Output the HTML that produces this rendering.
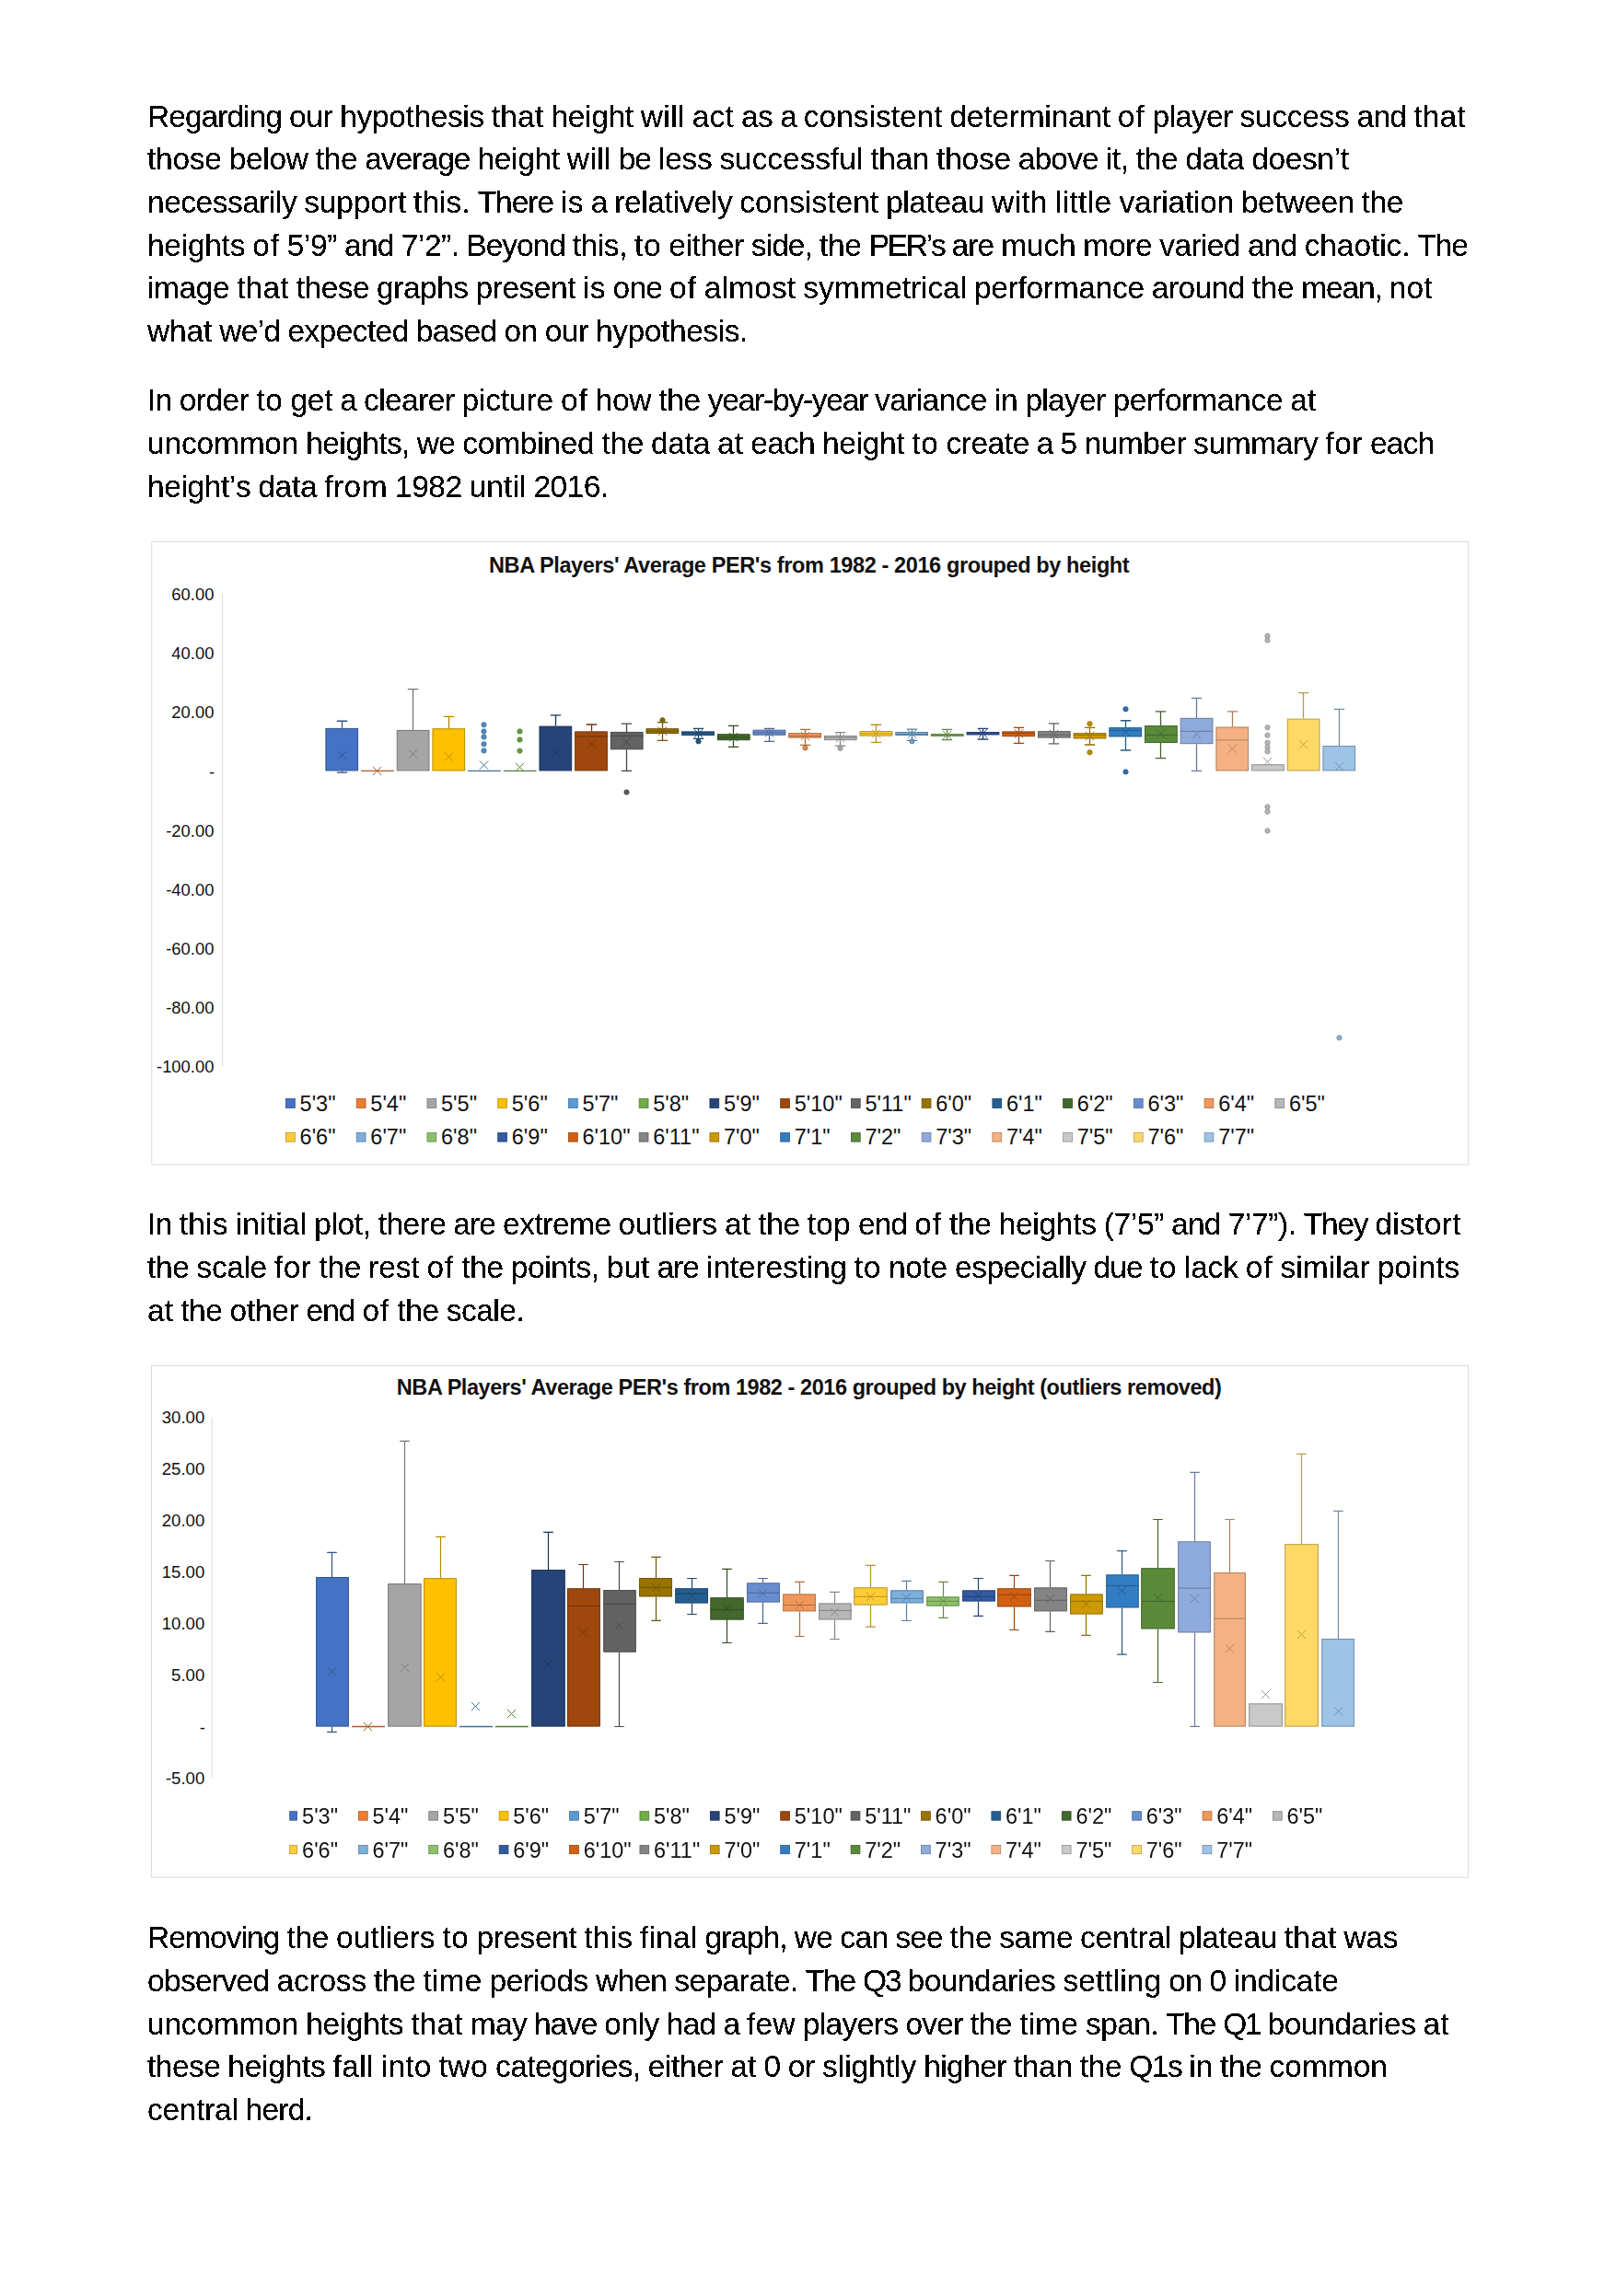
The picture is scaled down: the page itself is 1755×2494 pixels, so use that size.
<!DOCTYPE html><html><head><meta charset="utf-8"><title>NBA PER by height</title><style>
html,body{margin:0;padding:0;background:#fff}body{width:1755px;height:2494px;position:relative;overflow:hidden;font-family:"Liberation Sans",sans-serif;color:#000}
.t{position:absolute;white-space:nowrap;font-size:33.5px;line-height:40px;height:40px;margin:0;font-kerning:none;filter:url(#bw)}.w{display:inline-block;white-space:pre}
</style></head><body>
<svg width="0" height="0" style="position:absolute"><filter id="bw" x="-1%" y="-10%" width="102%" height="120%" color-interpolation-filters="sRGB"><feComponentTransfer><feFuncA type="discrete" tableValues="0 0 1 1 1"/></feComponentTransfer></filter></svg>
<div class="t" style="left:160.00px;top:107.39px"><span class="w" style="width:153.97px;letter-spacing:-0.958px">Regarding </span><span class="w" style="width:55.28px;letter-spacing:-0.384px">our </span><span class="w" style="width:164.59px;letter-spacing:-0.358px">hypothesis </span><span class="w" style="width:64.61px;letter-spacing:0.179px">that </span><span class="w" style="width:97.42px;letter-spacing:-0.311px">height </span><span class="w" style="width:55.91px;letter-spacing:0.344px">will </span><span class="w" style="width:53.15px;letter-spacing:0.147px">act </span><span class="w" style="width:42.32px;letter-spacing:-0.539px">as </span><span class="w" style="width:25.62px;letter-spacing:-1.021px">a </span><span class="w" style="width:158.69px;letter-spacing:-0.015px">consistent </span><span class="w" style="width:182.25px;letter-spacing:-0.243px">determinant </span><span class="w" style="width:37.72px;letter-spacing:0.882px">of </span><span class="w" style="width:95.07px;letter-spacing:-0.698px">player </span><span class="w" style="width:126.98px;letter-spacing:-0.292px">success </span><span class="w" style="width:61.74px;letter-spacing:-0.721px">and </span><span class="w" style="width:56.59px;letter-spacing:0.179px">that</span></div>
<div class="t" style="left:160.00px;top:153.39px"><span class="w" style="width:88.70px;letter-spacing:-0.253px">those </span><span class="w" style="width:93.95px;letter-spacing:-0.319px">below </span><span class="w" style="width:53.55px;letter-spacing:-0.342px">the </span><span class="w" style="width:122.30px;letter-spacing:-0.968px">average </span><span class="w" style="width:97.39px;letter-spacing:-0.316px">height </span><span class="w" style="width:55.89px;letter-spacing:0.340px">will </span><span class="w" style="width:43.31px;letter-spacing:-0.980px">be </span><span class="w" style="width:66.39px;letter-spacing:-0.300px">less </span><span class="w" style="width:163.87px;letter-spacing:-0.053px">successful </span><span class="w" style="width:71.87px;letter-spacing:-0.336px">than </span><span class="w" style="width:88.70px;letter-spacing:-0.253px">those </span><span class="w" style="width:95.05px;letter-spacing:-0.847px">above </span><span class="w" style="width:32.79px;letter-spacing:-0.426px">it, </span><span class="w" style="width:53.55px;letter-spacing:-0.342px">the </span><span class="w" style="width:72.04px;letter-spacing:-0.292px">data </span><span class="w" style="width:105.43px;letter-spacing:-0.370px">doesn’t</span></div>
<div class="t" style="left:160.00px;top:200.39px"><span class="w" style="width:170.19px;letter-spacing:-0.491px">necessarily </span><span class="w" style="width:118.93px;letter-spacing:-0.118px">support </span><span class="w" style="width:69.52px;letter-spacing:0.013px">this. </span><span class="w" style="width:90.46px;letter-spacing:-1.014px">There </span><span class="w" style="width:32.58px;letter-spacing:0.184px">is </span><span class="w" style="width:25.64px;letter-spacing:-1.013px">a </span><span class="w" style="width:136.09px;letter-spacing:-0.411px">relatively </span><span class="w" style="width:158.77px;letter-spacing:-0.008px">consistent </span><span class="w" style="width:114.88px;letter-spacing:-0.435px">plateau </span><span class="w" style="width:68.64px;letter-spacing:0.261px">with </span><span class="w" style="width:69.92px;letter-spacing:0.388px">little </span><span class="w" style="width:132.55px;letter-spacing:-0.233px">variation </span><span class="w" style="width:130.46px;letter-spacing:-0.602px">between </span><span class="w" style="width:45.58px;letter-spacing:-0.330px">the</span></div>
<div class="t" style="left:160.00px;top:247.39px"><span class="w" style="width:114.15px;letter-spacing:-0.270px">heights </span><span class="w" style="width:37.73px;letter-spacing:0.887px">of </span><span class="w" style="width:62.18px;letter-spacing:-0.425px">5’9” </span><span class="w" style="width:61.77px;letter-spacing:-0.715px">and </span><span class="w" style="width:70.70px;letter-spacing:-0.497px">7’2”. </span><span class="w" style="width:115.26px;letter-spacing:-1.062px">Beyond </span><span class="w" style="width:67.35px;letter-spacing:-0.422px">this, </span><span class="w" style="width:37.07px;letter-spacing:0.555px">to </span><span class="w" style="width:89.57px;letter-spacing:-0.375px">either </span><span class="w" style="width:74.35px;letter-spacing:-0.885px">side, </span><span class="w" style="width:53.59px;letter-spacing:-0.332px">the </span><span class="w" style="width:89.96px;letter-spacing:-2.226px">PER’s </span><span class="w" style="width:53.75px;letter-spacing:-0.895px">are </span><span class="w" style="width:89.04px;letter-spacing:-0.223px">much </span><span class="w" style="width:82.99px;letter-spacing:-0.338px">more </span><span class="w" style="width:95.56px;letter-spacing:-0.617px">varied </span><span class="w" style="width:61.77px;letter-spacing:-0.715px">and </span><span class="w" style="width:122.80px;letter-spacing:-0.083px">chaotic. </span><span class="w" style="width:54.32px;letter-spacing:-1.136px">The</span></div>
<div class="t" style="left:160.00px;top:293.39px"><span class="w" style="width:97.15px;letter-spacing:-0.421px">image </span><span class="w" style="width:64.59px;letter-spacing:0.176px">that </span><span class="w" style="width:87.40px;letter-spacing:-0.513px">these </span><span class="w" style="width:107.41px;letter-spacing:-0.506px">graphs </span><span class="w" style="width:116.54px;letter-spacing:-0.459px">present </span><span class="w" style="width:32.56px;letter-spacing:0.176px">is </span><span class="w" style="width:61.48px;letter-spacing:-0.809px">one </span><span class="w" style="width:37.71px;letter-spacing:0.879px">of </span><span class="w" style="width:107.56px;letter-spacing:0.147px">almost </span><span class="w" style="width:185.68px;letter-spacing:-0.091px">symmetrical </span><span class="w" style="width:192.84px;letter-spacing:-0.294px">performance </span><span class="w" style="width:108.99px;letter-spacing:-0.556px">around </span><span class="w" style="width:53.56px;letter-spacing:-0.341px">the </span><span class="w" style="width:95.35px;letter-spacing:-1.154px">mean, </span><span class="w" style="width:46.89px;letter-spacing:0.107px">not</span></div>
<div class="t" style="left:160.00px;top:340.39px"><span class="w" style="width:78.28px;letter-spacing:-0.122px">what </span><span class="w" style="width:74.14px;letter-spacing:-0.690px">we’d </span><span class="w" style="width:139.32px;letter-spacing:-0.581px">expected </span><span class="w" style="width:95.80px;letter-spacing:-0.697px">based </span><span class="w" style="width:44.30px;letter-spacing:-0.486px">on </span><span class="w" style="width:55.23px;letter-spacing:-0.400px">our </span><span class="w" style="width:164.93px;letter-spacing:-0.412px">hypothesis.</span></div>
<div class="t" style="left:160.00px;top:415.39px"><span class="w" style="width:34.67px;letter-spacing:-0.642px">In </span><span class="w" style="width:83.76px;letter-spacing:-0.492px">order </span><span class="w" style="width:37.04px;letter-spacing:0.543px">to </span><span class="w" style="width:53.88px;letter-spacing:-0.234px">get </span><span class="w" style="width:25.61px;letter-spacing:-1.030px">a </span><span class="w" style="width:106.59px;letter-spacing:-0.546px">clearer </span><span class="w" style="width:107.46px;letter-spacing:-0.158px">picture </span><span class="w" style="width:37.70px;letter-spacing:0.875px">of </span><span class="w" style="width:68.60px;letter-spacing:-0.287px">how </span><span class="w" style="width:53.55px;letter-spacing:-0.345px">the </span><span class="w" style="width:181.34px;letter-spacing:-1.225px">year-by-year </span><span class="w" style="width:129.62px;letter-spacing:-0.626px">variance </span><span class="w" style="width:33.72px;letter-spacing:-0.184px">in </span><span class="w" style="width:95.02px;letter-spacing:-0.705px">player </span><span class="w" style="width:192.79px;letter-spacing:-0.298px">performance </span><span class="w" style="width:28.17px;letter-spacing:0.116px">at</span></div>
<div class="t" style="left:160.00px;top:462.39px"><span class="w" style="width:172.28px;letter-spacing:-0.182px">uncommon </span><span class="w" style="width:120.52px;letter-spacing:-0.604px">heights, </span><span class="w" style="width:49.51px;letter-spacing:-0.663px">we </span><span class="w" style="width:151.15px;letter-spacing:-0.265px">combined </span><span class="w" style="width:53.59px;letter-spacing:-0.331px">the </span><span class="w" style="width:72.10px;letter-spacing:-0.280px">data </span><span class="w" style="width:36.21px;letter-spacing:0.129px">at </span><span class="w" style="width:77.58px;letter-spacing:-0.769px">each </span><span class="w" style="width:97.46px;letter-spacing:-0.305px">height </span><span class="w" style="width:37.07px;letter-spacing:0.556px">to </span><span class="w" style="width:98.44px;letter-spacing:-0.447px">create </span><span class="w" style="width:25.63px;letter-spacing:-1.014px">a </span><span class="w" style="width:26.20px;letter-spacing:-0.445px">5 </span><span class="w" style="width:118.42px;letter-spacing:-0.531px">number </span><span class="w" style="width:143.25px;letter-spacing:-0.357px">summary </span><span class="w" style="width:48.69px;letter-spacing:0.527px">for </span><span class="w" style="width:69.57px;letter-spacing:-0.769px">each</span></div>
<div class="t" style="left:160.00px;top:509.39px"><span class="w" style="width:120.30px;letter-spacing:-0.395px">height’s </span><span class="w" style="width:71.90px;letter-spacing:-0.324px">data </span><span class="w" style="width:76.87px;letter-spacing:0.468px">from </span><span class="w" style="width:80.54px;letter-spacing:-0.495px">1982 </span><span class="w" style="width:69.85px;letter-spacing:0.080px">until </span><span class="w" style="width:81.05px;letter-spacing:-0.557px">2016.</span></div>
<div class="t" style="left:160.00px;top:1310.39px"><span class="w" style="width:34.69px;letter-spacing:-0.631px">In </span><span class="w" style="width:60.99px;letter-spacing:0.211px">this </span><span class="w" style="width:85.52px;letter-spacing:0.166px">initial </span><span class="w" style="width:69.45px;letter-spacing:-0.377px">plot, </span><span class="w" style="width:81.71px;letter-spacing:-0.533px">there </span><span class="w" style="width:53.75px;letter-spacing:-0.895px">are </span><span class="w" style="width:125.46px;letter-spacing:-0.510px">extreme </span><span class="w" style="width:115.45px;letter-spacing:-0.069px">outliers </span><span class="w" style="width:36.21px;letter-spacing:0.128px">at </span><span class="w" style="width:53.59px;letter-spacing:-0.332px">the </span><span class="w" style="width:55.24px;letter-spacing:0.216px">top </span><span class="w" style="width:61.31px;letter-spacing:-0.867px">end </span><span class="w" style="width:37.73px;letter-spacing:0.887px">of </span><span class="w" style="width:53.59px;letter-spacing:-0.332px">the </span><span class="w" style="width:114.16px;letter-spacing:-0.269px">heights </span><span class="w" style="width:73.25px;letter-spacing:-0.357px">(7’5” </span><span class="w" style="width:61.77px;letter-spacing:-0.715px">and </span><span class="w" style="width:81.96px;letter-spacing:-0.397px">7’7”). </span><span class="w" style="width:77.66px;letter-spacing:-1.208px">They </span><span class="w" style="width:93.41px;letter-spacing:0.312px">distort</span></div>
<div class="t" style="left:160.00px;top:1357.39px"><span class="w" style="width:53.58px;letter-spacing:-0.336px">the </span><span class="w" style="width:84.28px;letter-spacing:-0.388px">scale </span><span class="w" style="width:48.68px;letter-spacing:0.523px">for </span><span class="w" style="width:53.58px;letter-spacing:-0.336px">the </span><span class="w" style="width:63.40px;letter-spacing:-0.116px">rest </span><span class="w" style="width:37.72px;letter-spacing:0.884px">of </span><span class="w" style="width:53.58px;letter-spacing:-0.336px">the </span><span class="w" style="width:103.99px;letter-spacing:-0.389px">points, </span><span class="w" style="width:54.61px;letter-spacing:0.007px">but </span><span class="w" style="width:53.74px;letter-spacing:-0.899px">are </span><span class="w" style="width:160.74px;letter-spacing:-0.167px">interesting </span><span class="w" style="width:37.06px;letter-spacing:0.552px">to </span><span class="w" style="width:72.08px;letter-spacing:-0.285px">note </span><span class="w" style="width:150.63px;letter-spacing:-0.448px">especially </span><span class="w" style="width:61.28px;letter-spacing:-0.877px">due </span><span class="w" style="width:37.06px;letter-spacing:0.552px">to </span><span class="w" style="width:66.84px;letter-spacing:-0.187px">lack </span><span class="w" style="width:37.72px;letter-spacing:0.884px">of </span><span class="w" style="width:105.23px;letter-spacing:0.063px">similar </span><span class="w" style="width:89.62px;letter-spacing:0.038px">points</span></div>
<div class="t" style="left:160.00px;top:1404.39px"><span class="w" style="width:36.13px;letter-spacing:0.095px">at </span><span class="w" style="width:53.47px;letter-spacing:-0.367px">the </span><span class="w" style="width:82.83px;letter-spacing:-0.306px">other </span><span class="w" style="width:61.16px;letter-spacing:-0.909px">end </span><span class="w" style="width:37.64px;letter-spacing:0.853px">of </span><span class="w" style="width:53.47px;letter-spacing:-0.367px">the </span><span class="w" style="width:84.61px;letter-spacing:-0.484px">scale.</span></div>
<div class="t" style="left:160.00px;top:2085.39px"><span class="w" style="width:151.52px;letter-spacing:-0.913px">Removing </span><span class="w" style="width:53.58px;letter-spacing:-0.335px">the </span><span class="w" style="width:115.43px;letter-spacing:-0.072px">outliers </span><span class="w" style="width:37.06px;letter-spacing:0.552px">to </span><span class="w" style="width:116.58px;letter-spacing:-0.453px">present </span><span class="w" style="width:60.98px;letter-spacing:0.208px">this </span><span class="w" style="width:70.45px;letter-spacing:0.196px">final </span><span class="w" style="width:97.11px;letter-spacing:-0.983px">graph, </span><span class="w" style="width:49.50px;letter-spacing:-0.669px">we </span><span class="w" style="width:60.44px;letter-spacing:-0.529px">can </span><span class="w" style="width:59.02px;letter-spacing:-1.003px">see </span><span class="w" style="width:53.58px;letter-spacing:-0.335px">the </span><span class="w" style="width:87.86px;letter-spacing:-0.519px">same </span><span class="w" style="width:106.99px;letter-spacing:-0.225px">central </span><span class="w" style="width:114.84px;letter-spacing:-0.440px">plateau </span><span class="w" style="width:64.62px;letter-spacing:0.181px">that </span><span class="w" style="width:58.64px;letter-spacing:-0.311px">was</span></div>
<div class="t" style="left:160.00px;top:2132.39px"><span class="w" style="width:140.56px;letter-spacing:-0.659px">observed </span><span class="w" style="width:105.39px;letter-spacing:-0.215px">across </span><span class="w" style="width:53.58px;letter-spacing:-0.335px">the </span><span class="w" style="width:71.99px;letter-spacing:0.171px">time </span><span class="w" style="width:115.57px;letter-spacing:-0.331px">periods </span><span class="w" style="width:85.20px;letter-spacing:-0.725px">when </span><span class="w" style="width:142.47px;letter-spacing:-0.580px">separate. </span><span class="w" style="width:62.33px;letter-spacing:-1.139px">The </span><span class="w" style="width:48.46px;letter-spacing:-2.123px">Q3 </span><span class="w" style="width:168.90px;letter-spacing:-0.488px">boundaries </span><span class="w" style="width:114.77px;letter-spacing:0.076px">settling </span><span class="w" style="width:44.35px;letter-spacing:-0.465px">on </span><span class="w" style="width:26.20px;letter-spacing:-0.449px">0 </span><span class="w" style="width:114.14px;letter-spacing:-0.166px">indicate</span></div>
<div class="t" style="left:160.00px;top:2179.39px"><span class="w" style="width:172.13px;letter-spacing:-0.200px">uncommon </span><span class="w" style="width:114.06px;letter-spacing:-0.282px">heights </span><span class="w" style="width:64.58px;letter-spacing:0.172px">that </span><span class="w" style="width:69.28px;letter-spacing:-0.671px">may </span><span class="w" style="width:76.25px;letter-spacing:-1.101px">have </span><span class="w" style="width:67.48px;letter-spacing:-0.496px">only </span><span class="w" style="width:61.68px;letter-spacing:-0.740px">had </span><span class="w" style="width:25.61px;letter-spacing:-1.030px">a </span><span class="w" style="width:60.70px;letter-spacing:0.187px">few </span><span class="w" style="width:111.71px;letter-spacing:-0.614px">players </span><span class="w" style="width:70.23px;letter-spacing:-0.737px">over </span><span class="w" style="width:53.55px;letter-spacing:-0.345px">the </span><span class="w" style="width:71.94px;letter-spacing:0.160px">time </span><span class="w" style="width:86.82px;letter-spacing:-0.628px">span. </span><span class="w" style="width:62.28px;letter-spacing:-1.151px">The </span><span class="w" style="width:48.43px;letter-spacing:-2.136px">Q1 </span><span class="w" style="width:168.79px;letter-spacing:-0.498px">boundaries </span><span class="w" style="width:28.17px;letter-spacing:0.117px">at</span></div>
<div class="t" style="left:160.00px;top:2225.39px"><span class="w" style="width:87.36px;letter-spacing:-0.519px">these </span><span class="w" style="width:114.05px;letter-spacing:-0.284px">heights </span><span class="w" style="width:52.54px;letter-spacing:0.428px">fall </span><span class="w" style="width:62.73px;letter-spacing:0.178px">into </span><span class="w" style="width:61.34px;letter-spacing:0.401px">two </span><span class="w" style="width:165.83px;letter-spacing:-0.550px">categories, </span><span class="w" style="width:89.48px;letter-spacing:-0.388px">either </span><span class="w" style="width:36.18px;letter-spacing:0.115px">at </span><span class="w" style="width:26.18px;letter-spacing:-0.463px">0 </span><span class="w" style="width:37.41px;letter-spacing:-0.193px">or </span><span class="w" style="width:110.10px;letter-spacing:-0.039px">slightly </span><span class="w" style="width:97.74px;letter-spacing:-0.565px">higher </span><span class="w" style="width:71.85px;letter-spacing:-0.340px">than </span><span class="w" style="width:53.54px;letter-spacing:-0.347px">the </span><span class="w" style="width:65.10px;letter-spacing:-1.448px">Q1s </span><span class="w" style="width:33.71px;letter-spacing:-0.185px">in </span><span class="w" style="width:53.54px;letter-spacing:-0.347px">the </span><span class="w" style="width:128.41px;letter-spacing:-0.008px">common</span></div>
<div class="t" style="left:160.00px;top:2272.39px"><span class="w" style="width:106.62px;letter-spacing:-0.274px">central </span><span class="w" style="width:72.48px;letter-spacing:-0.776px">herd.</span></div>
<svg width="1755" height="2494" viewBox="0 0 1755 2494" style="position:absolute;left:0;top:0;filter:blur(.3px)" font-family="'Liberation Sans',sans-serif" fill="#111">
<rect x="164.8" y="588.3" width="1429.9" height="676.7" fill="#fff" stroke="#DCDCDC" stroke-width="1.1"/>
<line x1="241.6" y1="644.8" x2="241.6" y2="1158.4" stroke="#DCDCDC" stroke-width="1.1"/>
<text x="878.8" y="621.7" font-size="23.5" font-weight="bold" text-anchor="middle" textLength="695.7" lengthAdjust="spacing">NBA Players' Average PER's from 1982 - 2016 grouped by height</text>
<text x="232.4" y="652.19" font-size="18.4" text-anchor="end">60.00</text>
<text x="232.4" y="716.33" font-size="18.4" text-anchor="end">40.00</text>
<text x="232.4" y="780.47" font-size="18.4" text-anchor="end">20.00</text>
<text x="233" y="844.82" font-size="18.4" text-anchor="end">-</text>
<text x="232.4" y="908.75" font-size="18.4" text-anchor="end">-20.00</text>
<text x="232.4" y="972.89" font-size="18.4" text-anchor="end">-40.00</text>
<text x="232.4" y="1037.03" font-size="18.4" text-anchor="end">-60.00</text>
<text x="232.4" y="1101.17" font-size="18.4" text-anchor="end">-80.00</text>
<text x="232.4" y="1165.31" font-size="18.4" text-anchor="end">-100.00</text>
<path d="M371.5 790.87V783.25M365.8 783.25H377.2" stroke="#30528D" stroke-width="1.3" fill="none"/><path d="M371.5 837.43V839.09M365.8 839.09H377.2" stroke="#30528D" stroke-width="1.3" fill="none"/><rect x="353.9" y="791.37" width="34.7" height="45.56" fill="#4472C4" stroke="#30528D" stroke-width="1"/><path d="M366.9 815.71l9.2 9.2M366.9 824.91l9.2 -9.2" stroke="#335694" stroke-width="1" fill="none"/>
<line x1="392.08" y1="837.4" x2="427.78" y2="837.4" stroke="#AA5A23" stroke-width="1.3"/><path d="M404.9 832.8l9.2 9.2M404.9 842l9.2 -9.2" stroke="#B45F25" stroke-width="1" fill="none"/>
<path d="M448.5 792.9V748.58M442.8 748.58H454.2" stroke="#767676" stroke-width="1.3" fill="none"/><rect x="431.26" y="793.4" width="34.7" height="43.53" fill="#A5A5A5" stroke="#767676" stroke-width="1"/><path d="M443.9 814.45l9.2 9.2M443.9 823.65l9.2 -9.2" stroke="#7D7D7D" stroke-width="1" fill="none"/>
<path d="M487.5 791.21V778.36M481.8 778.36H493.2" stroke="#B78A00" stroke-width="1.3" fill="none"/><rect x="469.94" y="791.71" width="34.7" height="45.22" fill="#FFC000" stroke="#B78A00" stroke-width="1"/><path d="M482.9 817.39l9.2 9.2M482.9 826.59l9.2 -9.2" stroke="#C19100" stroke-width="1" fill="none"/>
<line x1="508.12" y1="837.4" x2="543.82" y2="837.4" stroke="#416F99" stroke-width="1.3"/><path d="M520.9 826.53l9.2 9.2M520.9 835.73l9.2 -9.2" stroke="#4575A1" stroke-width="1" fill="none"/><circle cx="525.5" cy="787.3" r="2.7" fill="#518BBF" stroke="#416F99" stroke-width=".7"/><circle cx="525.5" cy="794.4" r="2.7" fill="#518BBF" stroke="#416F99" stroke-width=".7"/><circle cx="525.5" cy="800.5" r="2.7" fill="#518BBF" stroke="#416F99" stroke-width=".7"/><circle cx="525.5" cy="808.3" r="2.7" fill="#518BBF" stroke="#416F99" stroke-width=".7"/><circle cx="525.5" cy="815.4" r="2.7" fill="#518BBF" stroke="#416F99" stroke-width=".7"/>
<line x1="546.8" y1="837.4" x2="582.5" y2="837.4" stroke="#507C33" stroke-width="1.3"/><path d="M559.9 828.79l9.2 9.2M559.9 837.99l9.2 -9.2" stroke="#558335" stroke-width="1" fill="none"/><circle cx="564.5" cy="794.4" r="2.7" fill="#649B3F" stroke="#507C33" stroke-width=".7"/><circle cx="564.5" cy="803.5" r="2.7" fill="#649B3F" stroke="#507C33" stroke-width=".7"/><circle cx="564.5" cy="815.6" r="2.7" fill="#649B3F" stroke="#507C33" stroke-width=".7"/>
<path d="M603.5 788.61V776.93M597.8 776.93H609.2" stroke="#1B3056" stroke-width="1.3" fill="none"/><rect x="585.98" y="789.11" width="34.7" height="47.82" fill="#264478" stroke="#1B3056" stroke-width="1"/><path d="M598.9 813.53l9.2 9.2M598.9 822.73l9.2 -9.2" stroke="#1C335B" stroke-width="1" fill="none"/>
<path d="M642.5 794.36V787M636.8 787H648.2" stroke="#71330A" stroke-width="1.3" fill="none"/><rect x="624.66" y="794.86" width="34.7" height="42.07" fill="#9E480E" stroke="#71330A" stroke-width="1"/><line x1="624.16" y1="799.89" x2="659.86" y2="799.89" stroke="#71330A" stroke-width="1"/><path d="M637.9 803.56l9.2 9.2M637.9 812.76l9.2 -9.2" stroke="#78360A" stroke-width="1" fill="none"/>
<path d="M680.5 794.91V786.15M674.8 786.15H686.2" stroke="#474747" stroke-width="1.3" fill="none"/><path d="M680.5 814.26V837.4M674.8 837.4H686.2" stroke="#474747" stroke-width="1.3" fill="none"/><rect x="663.34" y="795.41" width="34.7" height="18.36" fill="#636363" stroke="#474747" stroke-width="1"/><line x1="662.84" y1="799.29" x2="698.54" y2="799.29" stroke="#474747" stroke-width="1"/><path d="M675.9 801.39l9.2 9.2M675.9 810.59l9.2 -9.2" stroke="#4B4B4B" stroke-width="1" fill="none"/><circle cx="680.5" cy="860.5" r="2.7" fill="#595959" stroke="#474747" stroke-width=".7"/>
<path d="M719.5 791.16V784.68M713.8 784.68H725.2" stroke="#6E5200" stroke-width="1.3" fill="none"/><path d="M719.5 797.03V804.44M713.8 804.44H725.2" stroke="#6E5200" stroke-width="1.3" fill="none"/><rect x="702.02" y="791.66" width="34.7" height="4.87" fill="#997300" stroke="#6E5200" stroke-width="1"/><line x1="701.52" y1="794.13" x2="737.22" y2="794.13" stroke="#6E5200" stroke-width="1"/><path d="M714.9 789.53l9.2 9.2M714.9 798.73l9.2 -9.2" stroke="#745700" stroke-width="1" fill="none"/><circle cx="719.5" cy="782.3" r="2.7" fill="#896700" stroke="#6E5200" stroke-width=".7"/>
<path d="M758.5 794.36V791.3M752.8 791.3H764.2" stroke="#1A4368" stroke-width="1.3" fill="none"/><path d="M758.5 799.06V802.47M752.8 802.47H764.2" stroke="#1A4368" stroke-width="1.3" fill="none"/><rect x="740.7" y="794.86" width="34.7" height="3.7" fill="#255E91" stroke="#1A4368" stroke-width="1"/><line x1="740.2" y1="796.05" x2="775.9" y2="796.05" stroke="#1A4368" stroke-width="1"/><path d="M753.9 792.17l9.2 9.2M753.9 801.37l9.2 -9.2" stroke="#1C476E" stroke-width="1" fill="none"/><circle cx="758.5" cy="805.3" r="2.7" fill="#215482" stroke="#1A4368" stroke-width=".7"/>
<path d="M796.5 797.23V788.41M790.8 788.41H802.2" stroke="#304A1E" stroke-width="1.3" fill="none"/><path d="M796.5 804.21V811.34M790.8 811.34H802.2" stroke="#304A1E" stroke-width="1.3" fill="none"/><rect x="779.38" y="797.73" width="34.7" height="5.99" fill="#43682B" stroke="#304A1E" stroke-width="1"/><line x1="778.88" y1="801.01" x2="814.58" y2="801.01" stroke="#304A1E" stroke-width="1"/><path d="M791.9 796.01l9.2 9.2M791.9 805.21l9.2 -9.2" stroke="#324F20" stroke-width="1" fill="none"/>
<path d="M835.5 792.67V791.3M829.8 791.3H841.2" stroke="#4B6695" stroke-width="1.3" fill="none"/><path d="M835.5 798.77V805.3M829.8 805.3H841.2" stroke="#4B6695" stroke-width="1.3" fill="none"/><rect x="818.06" y="793.17" width="34.7" height="5.1" fill="#698ED0" stroke="#4B6695" stroke-width="1"/><line x1="817.56" y1="795.82" x2="853.26" y2="795.82" stroke="#4B6695" stroke-width="1"/><path d="M830.9 791.42l9.2 9.2M830.9 800.62l9.2 -9.2" stroke="#4F6B9E" stroke-width="1" fill="none"/>
<path d="M874.5 796.14V792.42M868.8 792.42H880.2" stroke="#AD6C40" stroke-width="1.3" fill="none"/><path d="M874.5 801.58V809.34M868.8 809.34H880.2" stroke="#AD6C40" stroke-width="1.3" fill="none"/><rect x="856.74" y="796.64" width="34.7" height="4.44" fill="#F1975A" stroke="#AD6C40" stroke-width="1"/><line x1="856.24" y1="799.6" x2="891.94" y2="799.6" stroke="#AD6C40" stroke-width="1"/><path d="M869.9 795l9.2 9.2M869.9 804.2l9.2 -9.2" stroke="#B77244" stroke-width="1" fill="none"/><circle cx="874.5" cy="812.4" r="2.7" fill="#D88751" stroke="#AD6C40" stroke-width=".7"/>
<path d="M912.5 799V795.57M906.8 795.57H918.2" stroke="#838383" stroke-width="1.3" fill="none"/><path d="M912.5 804.18V810.2M906.8 810.2H918.2" stroke="#838383" stroke-width="1.3" fill="none"/><rect x="895.42" y="799.5" width="34.7" height="4.18" fill="#B7B7B7" stroke="#838383" stroke-width="1"/><line x1="894.92" y1="801.29" x2="930.62" y2="801.29" stroke="#838383" stroke-width="1"/><path d="M907.9 797.21l9.2 9.2M907.9 806.41l9.2 -9.2" stroke="#8B8B8B" stroke-width="1" fill="none"/><circle cx="912.5" cy="812.8" r="2.7" fill="#A4A4A4" stroke="#838383" stroke-width=".7"/>
<path d="M951.5 794.11V787.26M945.8 787.26H957.2" stroke="#B79324" stroke-width="1.3" fill="none"/><path d="M951.5 799.63V806.39M945.8 806.39H957.2" stroke="#B79324" stroke-width="1.3" fill="none"/><rect x="934.1" y="794.61" width="34.7" height="4.53" fill="#FFCD33" stroke="#B79324" stroke-width="1"/><line x1="933.6" y1="796.97" x2="969.3" y2="796.97" stroke="#B79324" stroke-width="1"/><path d="M946.9 792.37l9.2 9.2M946.9 801.57l9.2 -9.2" stroke="#C19B26" stroke-width="1" fill="none"/>
<path d="M990.5 794.96V792.1M984.8 792.1H996.2" stroke="#597E9F" stroke-width="1.3" fill="none"/><path d="M990.5 799.03V804.47M984.8 804.47H996.2" stroke="#597E9F" stroke-width="1.3" fill="none"/><rect x="972.78" y="795.46" width="34.7" height="3.07" fill="#7CAFDD" stroke="#597E9F" stroke-width="1"/><line x1="972.28" y1="797.54" x2="1007.98" y2="797.54" stroke="#597E9F" stroke-width="1"/><path d="M985.9 792.68l9.2 9.2M985.9 801.88l9.2 -9.2" stroke="#5E85A7" stroke-width="1" fill="none"/><circle cx="990.5" cy="805.3" r="2.7" fill="#6F9DC6" stroke="#597E9F" stroke-width=".7"/>
<path d="M1028.5 796.97V792.42M1022.8 792.42H1034.2" stroke="#648A4A" stroke-width="1.3" fill="none"/><path d="M1028.5 799.95V803.58M1022.8 803.58H1034.2" stroke="#648A4A" stroke-width="1.3" fill="none"/><rect x="1011.46" y="797.47" width="34.7" height="1.98" fill="#8CC168" stroke="#648A4A" stroke-width="1"/><line x1="1010.96" y1="798.4" x2="1046.66" y2="798.4" stroke="#648A4A" stroke-width="1"/><path d="M1023.9 793.8l9.2 9.2M1023.9 803l9.2 -9.2" stroke="#6A924F" stroke-width="1" fill="none"/>
<path d="M1067.5 794.96V791.3M1061.8 791.3H1073.2" stroke="#244073" stroke-width="1.3" fill="none"/><path d="M1067.5 798.49V803.01M1061.8 803.01H1073.2" stroke="#244073" stroke-width="1.3" fill="none"/><rect x="1050.14" y="795.46" width="34.7" height="2.52" fill="#335AA1" stroke="#244073" stroke-width="1"/><line x1="1049.64" y1="796.97" x2="1085.34" y2="796.97" stroke="#244073" stroke-width="1"/><path d="M1062.9 792.05l9.2 9.2M1062.9 801.25l9.2 -9.2" stroke="#26447A" stroke-width="1" fill="none"/>
<path d="M1106.5 794.36V790.41M1100.8 790.41H1112.2" stroke="#97450C" stroke-width="1.3" fill="none"/><path d="M1106.5 800.18V807.33M1100.8 807.33H1112.2" stroke="#97450C" stroke-width="1.3" fill="none"/><rect x="1088.82" y="794.86" width="34.7" height="4.81" fill="#D26012" stroke="#97450C" stroke-width="1"/><line x1="1088.32" y1="796.4" x2="1124.02" y2="796.4" stroke="#97450C" stroke-width="1"/><path d="M1101.9 792.37l9.2 9.2M1101.9 801.57l9.2 -9.2" stroke="#9F480D" stroke-width="1" fill="none"/>
<path d="M1144.5 794.11V785.86M1138.8 785.86H1150.2" stroke="#5F5F5F" stroke-width="1.3" fill="none"/><path d="M1144.5 801.58V807.88M1138.8 807.88H1150.2" stroke="#5F5F5F" stroke-width="1.3" fill="none"/><rect x="1127.5" y="794.61" width="34.7" height="6.47" fill="#848484" stroke="#5F5F5F" stroke-width="1"/><line x1="1127" y1="798.11" x2="1162.7" y2="798.11" stroke="#5F5F5F" stroke-width="1"/><path d="M1139.9 793l9.2 9.2M1139.9 802.2l9.2 -9.2" stroke="#646464" stroke-width="1" fill="none"/>
<path d="M1183.5 796.14V790.41M1177.8 790.41H1189.2" stroke="#926E00" stroke-width="1.3" fill="none"/><path d="M1183.5 802.5V809.02M1177.8 809.02H1189.2" stroke="#926E00" stroke-width="1.3" fill="none"/><rect x="1166.18" y="796.64" width="34.7" height="5.36" fill="#CC9A00" stroke="#926E00" stroke-width="1"/><line x1="1165.68" y1="798.4" x2="1201.38" y2="798.4" stroke="#926E00" stroke-width="1"/><path d="M1178.9 794.77l9.2 9.2M1178.9 803.97l9.2 -9.2" stroke="#9B7500" stroke-width="1" fill="none"/><circle cx="1183.5" cy="786.2" r="2.7" fill="#B78A00" stroke="#926E00" stroke-width=".7"/><circle cx="1183.5" cy="817.2" r="2.7" fill="#B78A00" stroke="#926E00" stroke-width=".7"/>
<path d="M1222.5 790.1V782.74M1216.8 782.74H1228.2" stroke="#245A8B" stroke-width="1.3" fill="none"/><path d="M1222.5 800.46V814.98M1216.8 814.98H1228.2" stroke="#245A8B" stroke-width="1.3" fill="none"/><rect x="1204.86" y="790.6" width="34.7" height="9.37" fill="#327DC2" stroke="#245A8B" stroke-width="1"/><line x1="1204.36" y1="793.56" x2="1240.06" y2="793.56" stroke="#245A8B" stroke-width="1"/><path d="M1217.9 790.48l9.2 9.2M1217.9 799.68l9.2 -9.2" stroke="#265F93" stroke-width="1" fill="none"/><circle cx="1222.5" cy="770.3" r="2.7" fill="#2D70AE" stroke="#245A8B" stroke-width=".7"/><circle cx="1222.5" cy="838.4" r="2.7" fill="#2D70AE" stroke="#245A8B" stroke-width=".7"/>
<path d="M1260.5 788.06V772.97M1254.8 772.97H1266.2" stroke="#406329" stroke-width="1.3" fill="none"/><path d="M1260.5 807.05V823.66M1254.8 823.66H1266.2" stroke="#406329" stroke-width="1.3" fill="none"/><rect x="1243.54" y="788.56" width="34.7" height="17.98" fill="#5A8A39" stroke="#406329" stroke-width="1"/><line x1="1243.04" y1="798.43" x2="1278.74" y2="798.43" stroke="#406329" stroke-width="1"/><path d="M1255.9 792.68l9.2 9.2M1255.9 801.88l9.2 -9.2" stroke="#44682B" stroke-width="1" fill="none"/>
<path d="M1299.5 779.79V758.34M1293.8 758.34H1305.2" stroke="#667A9E" stroke-width="1.3" fill="none"/><path d="M1299.5 808.19V837.37M1293.8 837.37H1305.2" stroke="#667A9E" stroke-width="1.3" fill="none"/><rect x="1282.22" y="780.29" width="34.7" height="27.4" fill="#8FAADC" stroke="#667A9E" stroke-width="1"/><line x1="1281.72" y1="794.33" x2="1317.42" y2="794.33" stroke="#667A9E" stroke-width="1"/><path d="M1294.9 792.97l9.2 9.2M1294.9 802.17l9.2 -9.2" stroke="#6C81A7" stroke-width="1" fill="none"/>
<path d="M1338.5 789.47V772.97M1332.8 772.97H1344.2" stroke="#AF7F5E" stroke-width="1.3" fill="none"/><rect x="1320.9" y="789.97" width="34.7" height="46.96" fill="#F4B183" stroke="#AF7F5E" stroke-width="1"/><line x1="1320.4" y1="803.81" x2="1356.1" y2="803.81" stroke="#AF7F5E" stroke-width="1"/><path d="M1333.9 808.52l9.2 9.2M1333.9 817.72l9.2 -9.2" stroke="#B98663" stroke-width="1" fill="none"/>
<rect x="1359.58" y="830.68" width="34.7" height="6.24" fill="#C9C9C9" stroke="#909090" stroke-width="1"/><path d="M1371.9 822.81l9.2 9.2M1371.9 832.01l9.2 -9.2" stroke="#989898" stroke-width="1" fill="none"/><circle cx="1376.5" cy="690.8" r="2.7" fill="#B4B4B4" stroke="#909090" stroke-width=".7"/><circle cx="1376.5" cy="695.5" r="2.7" fill="#B4B4B4" stroke="#909090" stroke-width=".7"/><circle cx="1376.5" cy="790.2" r="2.7" fill="#B4B4B4" stroke="#909090" stroke-width=".7"/><circle cx="1376.5" cy="798.7" r="2.7" fill="#B4B4B4" stroke="#909090" stroke-width=".7"/><circle cx="1376.5" cy="806.6" r="2.7" fill="#B4B4B4" stroke="#909090" stroke-width=".7"/><circle cx="1376.5" cy="811.4" r="2.7" fill="#B4B4B4" stroke="#909090" stroke-width=".7"/><circle cx="1376.5" cy="816.3" r="2.7" fill="#B4B4B4" stroke="#909090" stroke-width=".7"/><circle cx="1376.5" cy="876.5" r="2.7" fill="#B4B4B4" stroke="#909090" stroke-width=".7"/><circle cx="1376.5" cy="881.7" r="2.7" fill="#B4B4B4" stroke="#909090" stroke-width=".7"/><circle cx="1376.5" cy="902.5" r="2.7" fill="#B4B4B4" stroke="#909090" stroke-width=".7"/>
<path d="M1415.5 780.62V752.61M1409.8 752.61H1421.2" stroke="#B79C49" stroke-width="1.3" fill="none"/><rect x="1398.26" y="781.12" width="34.7" height="55.81" fill="#FFD966" stroke="#B79C49" stroke-width="1"/><path d="M1410.9 804.14l9.2 9.2M1410.9 813.34l9.2 -9.2" stroke="#C1A44D" stroke-width="1" fill="none"/>
<path d="M1454.5 810.05V770.37M1448.8 770.37H1460.2" stroke="#718CA5" stroke-width="1.3" fill="none"/><rect x="1436.94" y="810.55" width="34.7" height="26.37" fill="#9DC3E6" stroke="#718CA5" stroke-width="1"/><path d="M1449.9 828.02l9.2 9.2M1449.9 837.22l9.2 -9.2" stroke="#7794AE" stroke-width="1" fill="none"/><circle cx="1454.5" cy="1127.3" r="2.7" fill="#8DAFCF" stroke="#718CA5" stroke-width=".7"/>
<rect x="310.5" y="1193.5" width="9.8" height="9.9" fill="#4472C4" stroke="#30528D" stroke-width=".8"/>
<text transform="translate(325.6 1206.6) scale(1.02 1)" font-size="23.0">5'3&quot;</text>
<rect x="387.24" y="1193.5" width="9.8" height="9.9" fill="#ED7D31" stroke="#AA5A23" stroke-width=".8"/>
<text transform="translate(402.34 1206.6) scale(1.02 1)" font-size="23.0">5'4&quot;</text>
<rect x="463.98" y="1193.5" width="9.8" height="9.9" fill="#A5A5A5" stroke="#767676" stroke-width=".8"/>
<text transform="translate(479.08 1206.6) scale(1.02 1)" font-size="23.0">5'5&quot;</text>
<rect x="540.72" y="1193.5" width="9.8" height="9.9" fill="#FFC000" stroke="#B78A00" stroke-width=".8"/>
<text transform="translate(555.82 1206.6) scale(1.02 1)" font-size="23.0">5'6&quot;</text>
<rect x="617.46" y="1193.5" width="9.8" height="9.9" fill="#5B9BD5" stroke="#416F99" stroke-width=".8"/>
<text transform="translate(632.56 1206.6) scale(1.02 1)" font-size="23.0">5'7&quot;</text>
<rect x="694.2" y="1193.5" width="9.8" height="9.9" fill="#70AD47" stroke="#507C33" stroke-width=".8"/>
<text transform="translate(709.3 1206.6) scale(1.02 1)" font-size="23.0">5'8&quot;</text>
<rect x="770.94" y="1193.5" width="9.8" height="9.9" fill="#264478" stroke="#1B3056" stroke-width=".8"/>
<text transform="translate(786.04 1206.6) scale(1.02 1)" font-size="23.0">5'9&quot;</text>
<rect x="847.68" y="1193.5" width="9.8" height="9.9" fill="#9E480E" stroke="#71330A" stroke-width=".8"/>
<text transform="translate(862.78 1206.6) scale(1.02 1)" font-size="23.0">5'10&quot;</text>
<rect x="924.42" y="1193.5" width="9.8" height="9.9" fill="#636363" stroke="#474747" stroke-width=".8"/>
<text transform="translate(939.52 1206.6) scale(1.02 1)" font-size="23.0">5'11&quot;</text>
<rect x="1001.16" y="1193.5" width="9.8" height="9.9" fill="#997300" stroke="#6E5200" stroke-width=".8"/>
<text transform="translate(1016.26 1206.6) scale(1.02 1)" font-size="23.0">6'0&quot;</text>
<rect x="1077.9" y="1193.5" width="9.8" height="9.9" fill="#255E91" stroke="#1A4368" stroke-width=".8"/>
<text transform="translate(1093 1206.6) scale(1.02 1)" font-size="23.0">6'1&quot;</text>
<rect x="1154.64" y="1193.5" width="9.8" height="9.9" fill="#43682B" stroke="#304A1E" stroke-width=".8"/>
<text transform="translate(1169.74 1206.6) scale(1.02 1)" font-size="23.0">6'2&quot;</text>
<rect x="1231.38" y="1193.5" width="9.8" height="9.9" fill="#698ED0" stroke="#4B6695" stroke-width=".8"/>
<text transform="translate(1246.48 1206.6) scale(1.02 1)" font-size="23.0">6'3&quot;</text>
<rect x="1308.12" y="1193.5" width="9.8" height="9.9" fill="#F1975A" stroke="#AD6C40" stroke-width=".8"/>
<text transform="translate(1323.22 1206.6) scale(1.02 1)" font-size="23.0">6'4&quot;</text>
<rect x="1384.86" y="1193.5" width="9.8" height="9.9" fill="#B7B7B7" stroke="#838383" stroke-width=".8"/>
<text transform="translate(1399.96 1206.6) scale(1.02 1)" font-size="23.0">6'5&quot;</text>
<rect x="310.5" y="1230.5" width="9.8" height="9.6" fill="#FFCD33" stroke="#B79324" stroke-width=".8"/>
<text transform="translate(325.6 1243.3) scale(1.02 1)" font-size="23.0">6'6&quot;</text>
<rect x="387.24" y="1230.5" width="9.8" height="9.6" fill="#7CAFDD" stroke="#597E9F" stroke-width=".8"/>
<text transform="translate(402.34 1243.3) scale(1.02 1)" font-size="23.0">6'7&quot;</text>
<rect x="463.98" y="1230.5" width="9.8" height="9.6" fill="#8CC168" stroke="#648A4A" stroke-width=".8"/>
<text transform="translate(479.08 1243.3) scale(1.02 1)" font-size="23.0">6'8&quot;</text>
<rect x="540.72" y="1230.5" width="9.8" height="9.6" fill="#335AA1" stroke="#244073" stroke-width=".8"/>
<text transform="translate(555.82 1243.3) scale(1.02 1)" font-size="23.0">6'9&quot;</text>
<rect x="617.46" y="1230.5" width="9.8" height="9.6" fill="#D26012" stroke="#97450C" stroke-width=".8"/>
<text transform="translate(632.56 1243.3) scale(1.02 1)" font-size="23.0">6'10&quot;</text>
<rect x="694.2" y="1230.5" width="9.8" height="9.6" fill="#848484" stroke="#5F5F5F" stroke-width=".8"/>
<text transform="translate(709.3 1243.3) scale(1.02 1)" font-size="23.0">6'11&quot;</text>
<rect x="770.94" y="1230.5" width="9.8" height="9.6" fill="#CC9A00" stroke="#926E00" stroke-width=".8"/>
<text transform="translate(786.04 1243.3) scale(1.02 1)" font-size="23.0">7'0&quot;</text>
<rect x="847.68" y="1230.5" width="9.8" height="9.6" fill="#327DC2" stroke="#245A8B" stroke-width=".8"/>
<text transform="translate(862.78 1243.3) scale(1.02 1)" font-size="23.0">7'1&quot;</text>
<rect x="924.42" y="1230.5" width="9.8" height="9.6" fill="#5A8A39" stroke="#406329" stroke-width=".8"/>
<text transform="translate(939.52 1243.3) scale(1.02 1)" font-size="23.0">7'2&quot;</text>
<rect x="1001.16" y="1230.5" width="9.8" height="9.6" fill="#8FAADC" stroke="#667A9E" stroke-width=".8"/>
<text transform="translate(1016.26 1243.3) scale(1.02 1)" font-size="23.0">7'3&quot;</text>
<rect x="1077.9" y="1230.5" width="9.8" height="9.6" fill="#F4B183" stroke="#AF7F5E" stroke-width=".8"/>
<text transform="translate(1093 1243.3) scale(1.02 1)" font-size="23.0">7'4&quot;</text>
<rect x="1154.64" y="1230.5" width="9.8" height="9.6" fill="#C9C9C9" stroke="#909090" stroke-width=".8"/>
<text transform="translate(1169.74 1243.3) scale(1.02 1)" font-size="23.0">7'5&quot;</text>
<rect x="1231.38" y="1230.5" width="9.8" height="9.6" fill="#FFD966" stroke="#B79C49" stroke-width=".8"/>
<text transform="translate(1246.48 1243.3) scale(1.02 1)" font-size="23.0">7'6&quot;</text>
<rect x="1308.12" y="1230.5" width="9.8" height="9.6" fill="#9DC3E6" stroke="#718CA5" stroke-width=".8"/>
<text transform="translate(1323.22 1243.3) scale(1.02 1)" font-size="23.0">7'7&quot;</text>
<rect x="164.5" y="1483.3" width="1430" height="556" fill="#fff" stroke="#DCDCDC" stroke-width="1.1"/>
<line x1="230.2" y1="1539.4" x2="230.2" y2="1931.3" stroke="#DCDCDC" stroke-width="1.1"/>
<text x="878.8" y="1515" font-size="23.5" font-weight="bold" text-anchor="middle" textLength="896" lengthAdjust="spacing">NBA Players' Average PER's from 1982 - 2016 grouped by height (outliers removed)</text>
<text x="222.3" y="1546.06" font-size="18.6" text-anchor="end">30.00</text>
<text x="222.3" y="1602.06" font-size="18.6" text-anchor="end">25.00</text>
<text x="222.3" y="1658.06" font-size="18.6" text-anchor="end">20.00</text>
<text x="222.3" y="1714.06" font-size="18.6" text-anchor="end">15.00</text>
<text x="222.3" y="1770.06" font-size="18.6" text-anchor="end">10.00</text>
<text x="222.3" y="1826.06" font-size="18.6" text-anchor="end">5.00</text>
<text x="222.9" y="1883.3" font-size="18.6" text-anchor="end">-</text>
<text x="222.3" y="1938.06" font-size="18.6" text-anchor="end">-5.00</text>
<path d="M360.5 1713V1686.4M355.2 1686.4H365.8" stroke="#30528D" stroke-width="1.2" fill="none"/><path d="M360.5 1875.6V1881.4M355.2 1881.4H365.8" stroke="#30528D" stroke-width="1.2" fill="none"/><rect x="343.6" y="1713.5" width="34.8" height="161.6" fill="#4472C4" stroke="#30528D" stroke-width="1"/><path d="M355.9 1811.2l9.2 9.2M355.9 1820.4l9.2 -9.2" stroke="#335694" stroke-width="1" fill="none"/>
<line x1="382" y1="1875.5" x2="417.9" y2="1875.5" stroke="#AA5A23" stroke-width="1.3"/><path d="M394.9 1870.9l9.2 9.2M394.9 1880.1l9.2 -9.2" stroke="#B45F25" stroke-width="1" fill="none"/>
<path d="M439.5 1720.1V1565.3M434.2 1565.3H444.8" stroke="#767676" stroke-width="1.2" fill="none"/><rect x="421.7" y="1720.6" width="35.5" height="154.5" fill="#A5A5A5" stroke="#767676" stroke-width="1"/><path d="M434.9 1806.8l9.2 9.2M434.9 1816l9.2 -9.2" stroke="#7D7D7D" stroke-width="1" fill="none"/>
<path d="M478.5 1714.2V1669.3M473.2 1669.3H483.8" stroke="#B78A00" stroke-width="1.2" fill="none"/><rect x="460.6" y="1714.7" width="34.8" height="160.4" fill="#FFC000" stroke="#B78A00" stroke-width="1"/><path d="M473.9 1817.1l9.2 9.2M473.9 1826.3l9.2 -9.2" stroke="#C19100" stroke-width="1" fill="none"/>
<line x1="499" y1="1875.5" x2="535" y2="1875.5" stroke="#416F99" stroke-width="1.3"/><path d="M511.9 1849l9.2 9.2M511.9 1858.2l9.2 -9.2" stroke="#4575A1" stroke-width="1" fill="none"/>
<line x1="537.9" y1="1875.5" x2="573.8" y2="1875.5" stroke="#507C33" stroke-width="1.3"/><path d="M550.9 1856.9l9.2 9.2M550.9 1866.1l9.2 -9.2" stroke="#558335" stroke-width="1" fill="none"/>
<path d="M595.5 1705.1V1664.3M590.2 1664.3H600.8" stroke="#1B3056" stroke-width="1.2" fill="none"/><rect x="577.6" y="1705.6" width="35.7" height="169.5" fill="#264478" stroke="#1B3056" stroke-width="1"/><path d="M590.9 1803.6l9.2 9.2M590.9 1812.8l9.2 -9.2" stroke="#1C335B" stroke-width="1" fill="none"/>
<path d="M633.5 1725.2V1699.5M628.2 1699.5H638.8" stroke="#71330A" stroke-width="1.2" fill="none"/><rect x="616.5" y="1725.7" width="34.9" height="149.4" fill="#9E480E" stroke="#71330A" stroke-width="1"/><line x1="616" y1="1744.5" x2="651.9" y2="1744.5" stroke="#71330A" stroke-width="1"/><path d="M628.9 1768.8l9.2 9.2M628.9 1778l9.2 -9.2" stroke="#78360A" stroke-width="1" fill="none"/>
<path d="M672.5 1727.1V1696.5M667.2 1696.5H677.8" stroke="#474747" stroke-width="1.2" fill="none"/><path d="M672.5 1794.7V1875.5M667.2 1875.5H677.8" stroke="#474747" stroke-width="1.2" fill="none"/><rect x="655.7" y="1727.6" width="34.6" height="66.6" fill="#636363" stroke="#474747" stroke-width="1"/><line x1="655.2" y1="1742.4" x2="690.8" y2="1742.4" stroke="#474747" stroke-width="1"/><path d="M667.9 1761.2l9.2 9.2M667.9 1770.4l9.2 -9.2" stroke="#4B4B4B" stroke-width="1" fill="none"/>
<path d="M712.5 1714V1691.4M707.2 1691.4H717.8" stroke="#6E5200" stroke-width="1.2" fill="none"/><path d="M712.5 1734.5V1760.4M707.2 1760.4H717.8" stroke="#6E5200" stroke-width="1.2" fill="none"/><rect x="694.6" y="1714.5" width="34.8" height="19.5" fill="#997300" stroke="#6E5200" stroke-width="1"/><line x1="694.1" y1="1724.4" x2="729.9" y2="1724.4" stroke="#6E5200" stroke-width="1"/><path d="M707.9 1719.8l9.2 9.2M707.9 1729l9.2 -9.2" stroke="#745700" stroke-width="1" fill="none"/>
<path d="M751.5 1725.2V1714.5M746.2 1714.5H756.8" stroke="#1A4368" stroke-width="1.2" fill="none"/><path d="M751.5 1741.6V1753.5M746.2 1753.5H756.8" stroke="#1A4368" stroke-width="1.2" fill="none"/><rect x="733.7" y="1725.7" width="34.8" height="15.4" fill="#255E91" stroke="#1A4368" stroke-width="1"/><line x1="733.2" y1="1731.1" x2="769" y2="1731.1" stroke="#1A4368" stroke-width="1"/><path d="M746.9 1729l9.2 9.2M746.9 1738.2l9.2 -9.2" stroke="#1C476E" stroke-width="1" fill="none"/>
<path d="M789.5 1735.2V1704.4M784.2 1704.4H794.8" stroke="#304A1E" stroke-width="1.2" fill="none"/><path d="M789.5 1759.6V1784.5M784.2 1784.5H794.8" stroke="#304A1E" stroke-width="1.2" fill="none"/><rect x="771.8" y="1735.7" width="35.5" height="23.4" fill="#43682B" stroke="#304A1E" stroke-width="1"/><line x1="771.3" y1="1748.4" x2="807.8" y2="1748.4" stroke="#304A1E" stroke-width="1"/><path d="M784.9 1742.4l9.2 9.2M784.9 1751.6l9.2 -9.2" stroke="#324F20" stroke-width="1" fill="none"/>
<path d="M828.5 1719.3V1714.5M823.2 1714.5H833.8" stroke="#4B6695" stroke-width="1.2" fill="none"/><path d="M828.5 1740.6V1763.4M823.2 1763.4H833.8" stroke="#4B6695" stroke-width="1.2" fill="none"/><rect x="811.6" y="1719.8" width="34.8" height="20.3" fill="#698ED0" stroke="#4B6695" stroke-width="1"/><line x1="811.1" y1="1730.3" x2="846.9" y2="1730.3" stroke="#4B6695" stroke-width="1"/><path d="M823.9 1726.4l9.2 9.2M823.9 1735.6l9.2 -9.2" stroke="#4F6B9E" stroke-width="1" fill="none"/>
<path d="M868.5 1731.4V1718.4M863.2 1718.4H873.8" stroke="#AD6C40" stroke-width="1.2" fill="none"/><path d="M868.5 1750.4V1777.5M863.2 1777.5H873.8" stroke="#AD6C40" stroke-width="1.2" fill="none"/><rect x="850.7" y="1731.9" width="34.7" height="18" fill="#F1975A" stroke="#AD6C40" stroke-width="1"/><line x1="850.2" y1="1743.5" x2="885.9" y2="1743.5" stroke="#AD6C40" stroke-width="1"/><path d="M863.9 1738.9l9.2 9.2M863.9 1748.1l9.2 -9.2" stroke="#B77244" stroke-width="1" fill="none"/>
<path d="M906.5 1741.4V1729.4M901.2 1729.4H911.8" stroke="#838383" stroke-width="1.2" fill="none"/><path d="M906.5 1759.5V1780.5M901.2 1780.5H911.8" stroke="#838383" stroke-width="1.2" fill="none"/><rect x="889.7" y="1741.9" width="34.5" height="17.1" fill="#B7B7B7" stroke="#838383" stroke-width="1"/><line x1="889.2" y1="1749.4" x2="924.7" y2="1749.4" stroke="#838383" stroke-width="1"/><path d="M901.9 1746.6l9.2 9.2M901.9 1755.8l9.2 -9.2" stroke="#8B8B8B" stroke-width="1" fill="none"/>
<path d="M945.5 1724.3V1700.4M940.2 1700.4H950.8" stroke="#B79324" stroke-width="1.2" fill="none"/><path d="M945.5 1743.6V1767.2M940.2 1767.2H950.8" stroke="#B79324" stroke-width="1.2" fill="none"/><rect x="927.7" y="1724.8" width="35.6" height="18.3" fill="#FFCD33" stroke="#B79324" stroke-width="1"/><line x1="927.2" y1="1734.3" x2="963.8" y2="1734.3" stroke="#B79324" stroke-width="1"/><path d="M940.9 1729.7l9.2 9.2M940.9 1738.9l9.2 -9.2" stroke="#C19B26" stroke-width="1" fill="none"/>
<path d="M984.5 1727.3V1717.3M979.2 1717.3H989.8" stroke="#597E9F" stroke-width="1.2" fill="none"/><path d="M984.5 1741.5V1760.5M979.2 1760.5H989.8" stroke="#597E9F" stroke-width="1.2" fill="none"/><rect x="967.6" y="1727.8" width="34.8" height="13.2" fill="#7CAFDD" stroke="#597E9F" stroke-width="1"/><line x1="967.1" y1="1736.3" x2="1002.9" y2="1736.3" stroke="#597E9F" stroke-width="1"/><path d="M979.9 1730.8l9.2 9.2M979.9 1740l9.2 -9.2" stroke="#5E85A7" stroke-width="1" fill="none"/>
<path d="M1024.5 1734.3V1718.4M1019.2 1718.4H1029.8" stroke="#648A4A" stroke-width="1.2" fill="none"/><path d="M1024.5 1744.7V1757.4M1019.2 1757.4H1029.8" stroke="#648A4A" stroke-width="1.2" fill="none"/><rect x="1006.7" y="1734.8" width="34.6" height="9.4" fill="#8CC168" stroke="#648A4A" stroke-width="1"/><line x1="1006.2" y1="1739.3" x2="1041.8" y2="1739.3" stroke="#648A4A" stroke-width="1"/><path d="M1019.9 1734.7l9.2 9.2M1019.9 1743.9l9.2 -9.2" stroke="#6A924F" stroke-width="1" fill="none"/>
<path d="M1062.5 1727.3V1714.5M1057.2 1714.5H1067.8" stroke="#244073" stroke-width="1.2" fill="none"/><path d="M1062.5 1739.6V1755.4M1057.2 1755.4H1067.8" stroke="#244073" stroke-width="1.2" fill="none"/><rect x="1045.6" y="1727.8" width="34.8" height="11.3" fill="#335AA1" stroke="#244073" stroke-width="1"/><line x1="1045.1" y1="1734.3" x2="1080.9" y2="1734.3" stroke="#244073" stroke-width="1"/><path d="M1057.9 1728.6l9.2 9.2M1057.9 1737.8l9.2 -9.2" stroke="#26447A" stroke-width="1" fill="none"/>
<path d="M1101.5 1725.2V1711.4M1096.2 1711.4H1106.8" stroke="#97450C" stroke-width="1.2" fill="none"/><path d="M1101.5 1745.5V1770.5M1096.2 1770.5H1106.8" stroke="#97450C" stroke-width="1.2" fill="none"/><rect x="1083.6" y="1725.7" width="35.7" height="19.3" fill="#D26012" stroke="#97450C" stroke-width="1"/><line x1="1083.1" y1="1732.3" x2="1119.8" y2="1732.3" stroke="#97450C" stroke-width="1"/><path d="M1096.9 1729.7l9.2 9.2M1096.9 1738.9l9.2 -9.2" stroke="#9F480D" stroke-width="1" fill="none"/>
<path d="M1140.5 1724.3V1695.5M1135.2 1695.5H1145.8" stroke="#5F5F5F" stroke-width="1.2" fill="none"/><path d="M1140.5 1750.4V1772.4M1135.2 1772.4H1145.8" stroke="#5F5F5F" stroke-width="1.2" fill="none"/><rect x="1123.6" y="1724.8" width="34.8" height="25.1" fill="#848484" stroke="#5F5F5F" stroke-width="1"/><line x1="1123.1" y1="1738.3" x2="1158.9" y2="1738.3" stroke="#5F5F5F" stroke-width="1"/><path d="M1135.9 1731.9l9.2 9.2M1135.9 1741.1l9.2 -9.2" stroke="#646464" stroke-width="1" fill="none"/>
<path d="M1179.5 1731.4V1711.4M1174.2 1711.4H1184.8" stroke="#926E00" stroke-width="1.2" fill="none"/><path d="M1179.5 1753.6V1776.4M1174.2 1776.4H1184.8" stroke="#926E00" stroke-width="1.2" fill="none"/><rect x="1162.6" y="1731.9" width="34.7" height="21.2" fill="#CC9A00" stroke="#926E00" stroke-width="1"/><line x1="1162.1" y1="1739.3" x2="1197.8" y2="1739.3" stroke="#926E00" stroke-width="1"/><path d="M1174.9 1738.1l9.2 9.2M1174.9 1747.3l9.2 -9.2" stroke="#9B7500" stroke-width="1" fill="none"/>
<path d="M1218.5 1710.3V1684.6M1213.2 1684.6H1223.8" stroke="#245A8B" stroke-width="1.2" fill="none"/><path d="M1218.5 1746.5V1797.2M1213.2 1797.2H1223.8" stroke="#245A8B" stroke-width="1.2" fill="none"/><rect x="1201.7" y="1710.8" width="34.6" height="35.2" fill="#327DC2" stroke="#245A8B" stroke-width="1"/><line x1="1201.2" y1="1722.4" x2="1236.8" y2="1722.4" stroke="#245A8B" stroke-width="1"/><path d="M1213.9 1723.1l9.2 9.2M1213.9 1732.3l9.2 -9.2" stroke="#265F93" stroke-width="1" fill="none"/>
<path d="M1257.5 1703.2V1650.5M1252.2 1650.5H1262.8" stroke="#406329" stroke-width="1.2" fill="none"/><path d="M1257.5 1769.5V1827.5M1252.2 1827.5H1262.8" stroke="#406329" stroke-width="1.2" fill="none"/><rect x="1239.7" y="1703.7" width="35.6" height="65.3" fill="#5A8A39" stroke="#406329" stroke-width="1"/><line x1="1239.2" y1="1739.4" x2="1275.8" y2="1739.4" stroke="#406329" stroke-width="1"/><path d="M1252.9 1730.8l9.2 9.2M1252.9 1740l9.2 -9.2" stroke="#44682B" stroke-width="1" fill="none"/>
<path d="M1297.5 1674.3V1599.4M1292.2 1599.4H1302.8" stroke="#667A9E" stroke-width="1.2" fill="none"/><path d="M1297.5 1773.5V1875.4M1292.2 1875.4H1302.8" stroke="#667A9E" stroke-width="1.2" fill="none"/><rect x="1279.7" y="1674.8" width="34.7" height="98.2" fill="#8FAADC" stroke="#667A9E" stroke-width="1"/><line x1="1279.2" y1="1725.1" x2="1314.9" y2="1725.1" stroke="#667A9E" stroke-width="1"/><path d="M1292.9 1731.8l9.2 9.2M1292.9 1741l9.2 -9.2" stroke="#6C81A7" stroke-width="1" fill="none"/>
<path d="M1335.5 1708.1V1650.5M1330.2 1650.5H1340.8" stroke="#AF7F5E" stroke-width="1.2" fill="none"/><rect x="1318.7" y="1708.6" width="33.7" height="166.5" fill="#F4B183" stroke="#AF7F5E" stroke-width="1"/><line x1="1318.2" y1="1758.2" x2="1352.9" y2="1758.2" stroke="#AF7F5E" stroke-width="1"/><path d="M1330.9 1786.1l9.2 9.2M1330.9 1795.3l9.2 -9.2" stroke="#B98663" stroke-width="1" fill="none"/>
<rect x="1356.7" y="1850.8" width="35.7" height="24.3" fill="#C9C9C9" stroke="#909090" stroke-width="1"/><path d="M1369.9 1836l9.2 9.2M1369.9 1845.2l9.2 -9.2" stroke="#989898" stroke-width="1" fill="none"/>
<path d="M1413.5 1677.2V1579.4M1408.2 1579.4H1418.8" stroke="#B79C49" stroke-width="1.2" fill="none"/><rect x="1395.7" y="1677.7" width="35.7" height="197.4" fill="#FFD966" stroke="#B79C49" stroke-width="1"/><path d="M1408.9 1770.8l9.2 9.2M1408.9 1780l9.2 -9.2" stroke="#C1A44D" stroke-width="1" fill="none"/>
<path d="M1453.5 1780V1641.4M1448.2 1641.4H1458.8" stroke="#718CA5" stroke-width="1.2" fill="none"/><rect x="1435.7" y="1780.5" width="34.7" height="94.6" fill="#9DC3E6" stroke="#718CA5" stroke-width="1"/><path d="M1448.9 1854.2l9.2 9.2M1448.9 1863.4l9.2 -9.2" stroke="#7794AE" stroke-width="1" fill="none"/>
<rect x="314.7" y="1967.7" width="7.8" height="9.5" fill="#4472C4" stroke="#30528D" stroke-width=".8"/>
<text transform="translate(328.1 1980.6) scale(1.02 1)" font-size="23.0">5'3&quot;</text>
<rect x="389.39" y="1967.7" width="9.8" height="9.5" fill="#ED7D31" stroke="#AA5A23" stroke-width=".8"/>
<text transform="translate(404.49 1980.6) scale(1.02 1)" font-size="23.0">5'4&quot;</text>
<rect x="465.78" y="1967.7" width="9.8" height="9.5" fill="#A5A5A5" stroke="#767676" stroke-width=".8"/>
<text transform="translate(480.88 1980.6) scale(1.02 1)" font-size="23.0">5'5&quot;</text>
<rect x="542.17" y="1967.7" width="9.8" height="9.5" fill="#FFC000" stroke="#B78A00" stroke-width=".8"/>
<text transform="translate(557.27 1980.6) scale(1.02 1)" font-size="23.0">5'6&quot;</text>
<rect x="618.56" y="1967.7" width="9.8" height="9.5" fill="#5B9BD5" stroke="#416F99" stroke-width=".8"/>
<text transform="translate(633.66 1980.6) scale(1.02 1)" font-size="23.0">5'7&quot;</text>
<rect x="694.95" y="1967.7" width="9.8" height="9.5" fill="#70AD47" stroke="#507C33" stroke-width=".8"/>
<text transform="translate(710.05 1980.6) scale(1.02 1)" font-size="23.0">5'8&quot;</text>
<rect x="771.34" y="1967.7" width="9.8" height="9.5" fill="#264478" stroke="#1B3056" stroke-width=".8"/>
<text transform="translate(786.44 1980.6) scale(1.02 1)" font-size="23.0">5'9&quot;</text>
<rect x="847.73" y="1967.7" width="9.8" height="9.5" fill="#9E480E" stroke="#71330A" stroke-width=".8"/>
<text transform="translate(862.83 1980.6) scale(1.02 1)" font-size="23.0">5'10&quot;</text>
<rect x="924.12" y="1967.7" width="9.8" height="9.5" fill="#636363" stroke="#474747" stroke-width=".8"/>
<text transform="translate(939.22 1980.6) scale(1.02 1)" font-size="23.0">5'11&quot;</text>
<rect x="1000.51" y="1967.7" width="9.8" height="9.5" fill="#997300" stroke="#6E5200" stroke-width=".8"/>
<text transform="translate(1015.61 1980.6) scale(1.02 1)" font-size="23.0">6'0&quot;</text>
<rect x="1076.9" y="1967.7" width="9.8" height="9.5" fill="#255E91" stroke="#1A4368" stroke-width=".8"/>
<text transform="translate(1092 1980.6) scale(1.02 1)" font-size="23.0">6'1&quot;</text>
<rect x="1153.29" y="1967.7" width="9.8" height="9.5" fill="#43682B" stroke="#304A1E" stroke-width=".8"/>
<text transform="translate(1168.39 1980.6) scale(1.02 1)" font-size="23.0">6'2&quot;</text>
<rect x="1229.68" y="1967.7" width="9.8" height="9.5" fill="#698ED0" stroke="#4B6695" stroke-width=".8"/>
<text transform="translate(1244.78 1980.6) scale(1.02 1)" font-size="23.0">6'3&quot;</text>
<rect x="1306.07" y="1967.7" width="9.8" height="9.5" fill="#F1975A" stroke="#AD6C40" stroke-width=".8"/>
<text transform="translate(1321.17 1980.6) scale(1.02 1)" font-size="23.0">6'4&quot;</text>
<rect x="1382.46" y="1967.7" width="9.8" height="9.5" fill="#B7B7B7" stroke="#838383" stroke-width=".8"/>
<text transform="translate(1397.56 1980.6) scale(1.02 1)" font-size="23.0">6'5&quot;</text>
<rect x="314.7" y="2004.5" width="7.8" height="9.2" fill="#FFCD33" stroke="#B79324" stroke-width=".8"/>
<text transform="translate(328.1 2018.1) scale(1.02 1)" font-size="23.0">6'6&quot;</text>
<rect x="389.39" y="2004.5" width="9.8" height="9.2" fill="#7CAFDD" stroke="#597E9F" stroke-width=".8"/>
<text transform="translate(404.49 2018.1) scale(1.02 1)" font-size="23.0">6'7&quot;</text>
<rect x="465.78" y="2004.5" width="9.8" height="9.2" fill="#8CC168" stroke="#648A4A" stroke-width=".8"/>
<text transform="translate(480.88 2018.1) scale(1.02 1)" font-size="23.0">6'8&quot;</text>
<rect x="542.17" y="2004.5" width="9.8" height="9.2" fill="#335AA1" stroke="#244073" stroke-width=".8"/>
<text transform="translate(557.27 2018.1) scale(1.02 1)" font-size="23.0">6'9&quot;</text>
<rect x="618.56" y="2004.5" width="9.8" height="9.2" fill="#D26012" stroke="#97450C" stroke-width=".8"/>
<text transform="translate(633.66 2018.1) scale(1.02 1)" font-size="23.0">6'10&quot;</text>
<rect x="694.95" y="2004.5" width="9.8" height="9.2" fill="#848484" stroke="#5F5F5F" stroke-width=".8"/>
<text transform="translate(710.05 2018.1) scale(1.02 1)" font-size="23.0">6'11&quot;</text>
<rect x="771.34" y="2004.5" width="9.8" height="9.2" fill="#CC9A00" stroke="#926E00" stroke-width=".8"/>
<text transform="translate(786.44 2018.1) scale(1.02 1)" font-size="23.0">7'0&quot;</text>
<rect x="847.73" y="2004.5" width="9.8" height="9.2" fill="#327DC2" stroke="#245A8B" stroke-width=".8"/>
<text transform="translate(862.83 2018.1) scale(1.02 1)" font-size="23.0">7'1&quot;</text>
<rect x="924.12" y="2004.5" width="9.8" height="9.2" fill="#5A8A39" stroke="#406329" stroke-width=".8"/>
<text transform="translate(939.22 2018.1) scale(1.02 1)" font-size="23.0">7'2&quot;</text>
<rect x="1000.51" y="2004.5" width="9.8" height="9.2" fill="#8FAADC" stroke="#667A9E" stroke-width=".8"/>
<text transform="translate(1015.61 2018.1) scale(1.02 1)" font-size="23.0">7'3&quot;</text>
<rect x="1076.9" y="2004.5" width="9.8" height="9.2" fill="#F4B183" stroke="#AF7F5E" stroke-width=".8"/>
<text transform="translate(1092 2018.1) scale(1.02 1)" font-size="23.0">7'4&quot;</text>
<rect x="1153.29" y="2004.5" width="9.8" height="9.2" fill="#C9C9C9" stroke="#909090" stroke-width=".8"/>
<text transform="translate(1168.39 2018.1) scale(1.02 1)" font-size="23.0">7'5&quot;</text>
<rect x="1229.68" y="2004.5" width="9.8" height="9.2" fill="#FFD966" stroke="#B79C49" stroke-width=".8"/>
<text transform="translate(1244.78 2018.1) scale(1.02 1)" font-size="23.0">7'6&quot;</text>
<rect x="1306.07" y="2004.5" width="9.8" height="9.2" fill="#9DC3E6" stroke="#718CA5" stroke-width=".8"/>
<text transform="translate(1321.17 2018.1) scale(1.02 1)" font-size="23.0">7'7&quot;</text>
</svg>
</body></html>
